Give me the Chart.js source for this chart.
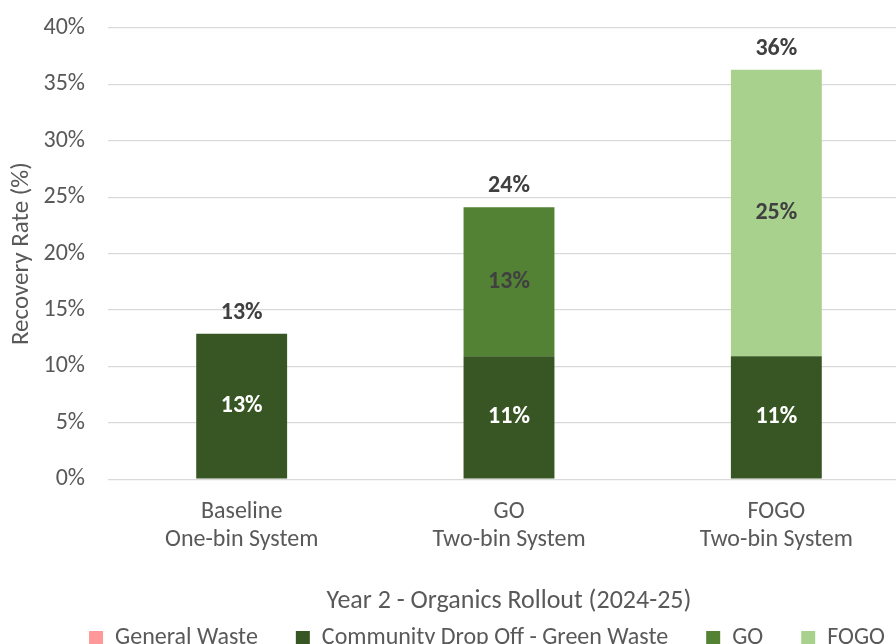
<!DOCTYPE html>
<html>
<head>
<meta charset="utf-8">
<script src="https://cdn.jsdelivr.net/npm/chart.js@4"></script>
<style>
  html, body { margin: 0; padding: 0; background: #fff; overflow: hidden; }
  #wrap { width: 896px; height: 644px; overflow: hidden; position: relative; }
  #wrap canvas { position: absolute; left: 0; top: 0; }
</style>
</head>
<body>
<div id="wrap"><canvas id="myChart" width="910" height="689"></canvas></div>
<script>
// Dataset
const categories = [["Baseline", "One-bin System"], ["GO", "Two-bin System"], ["FOGO", "Two-bin System"]];
const generalWaste = [0, 0, 0];
const communityDropOff = [12.9, 10.9, 10.9];
const goValues = [0, 13.2, 0];
const fogoValues = [0, 0, 25.4];
const yTicks = [0, 5, 10, 15, 20, 25, 30, 35, 40];

const FONT = "Carlito, Lato, 'Liberation Sans', sans-serif";
const GREY = "#595959";
const DARK = "#404040";

// draws the segment values and the stack totals
const barLabels = {
  id: "barLabels",
  afterDatasetsDraw(chart) {
    const ctx = chart.ctx;
    ctx.save();
    ctx.font = "bold 24px " + FONT;
    ctx.textAlign = "center";
    ctx.textBaseline = "middle";
    const totals = categories.map(() => 0);
    const tops = categories.map(() => Infinity);
    const xs = [];
    chart.data.datasets.forEach((ds, i) => {
      const meta = chart.getDatasetMeta(i);
      meta.data.forEach((bar, j) => {
        const v = ds.data[j];
        xs[j] = bar.x;
        if (!v) return;
        totals[j] += v;
        tops[j] = Math.min(tops[j], bar.y);
        ctx.fillStyle = ds.labelColor;
        ctx.fillText(Math.round(v) + "%", bar.x, (bar.y + bar.base) / 2);
      });
    });
    ctx.fillStyle = DARK;
    totals.forEach((t, j) => {
      ctx.fillText(Math.round(t) + "%", xs[j], tops[j] - 21);
    });
    ctx.restore();
  }
};

// nudge the legend so it sits where the original one does
const legendNudge = {
  id: "legendNudge",
  afterLayout(chart) {
    const lg = chart.legend;
    lg.left += 32; lg.right += 32;
    lg.top -= 29; lg.bottom -= 29;
  }
};

const data = {
  labels: categories,
  datasets: [
    { label: "General Waste", data: generalWaste, backgroundColor: "#FF9999", labelColor: DARK },
    { label: "Community Drop Off - Green Waste", data: communityDropOff, backgroundColor: "#375623", labelColor: "#ffffff" },
    { label: "GO", data: goValues, backgroundColor: "#548235", labelColor: DARK },
    { label: "FOGO", data: fogoValues, backgroundColor: "#A9D18E", labelColor: DARK },
  ],
};

const config = {
  type: "bar",
  data: data,
  plugins: [barLabels, legendNudge],
  options: {
    responsive: false,
    animation: false,
    devicePixelRatio: 1,
    layout: { padding: { top: 28, bottom: 0, left: 0, right: 0 } },
    datasets: { bar: { categoryPercentage: 1, barPercentage: 0.34 } },
    plugins: {
      tooltip: { enabled: false },
      legend: {
        position: "bottom",
        labels: {
          font: { family: FONT, size: 24 },
          color: GREY,
          boxWidth: 14,
          boxHeight: 14,
          padding: 38,
        },
      },
    },
    scales: {
      x: {
        stacked: true,
        grid: { display: false },
        border: { display: false },
        ticks: { color: GREY, font: { family: FONT, size: 24 }, padding: 10 },
        title: {
          display: true,
          text: "Year 2 - Organics Rollout (2024-25)",
          color: GREY,
          font: { family: FONT, size: 26 },
          padding: { top: 21, bottom: 0 },
        },
      },
      y: {
        stacked: true,
        min: 0,
        max: 40,
        afterBuildTicks: (scale) => { scale.ticks = yTicks.map(v => ({ value: v })); },
        afterFit: (scale) => {
          scale.width = 108;
          scale.paddingTop = 0;
          scale.paddingBottom = 0;
        },
        grid: { color: "#d9d9d9", lineWidth: 1.3, drawTicks: false },
        border: { display: false },
        ticks: {
          color: GREY,
          font: { family: FONT, size: 24 },
          padding: 23,
          callback: (v) => v + "%",
        },
        title: {
          display: true,
          text: "Recovery Rate (%)",
          color: GREY,
          font: { family: FONT, size: 25 },
          padding: { top: 7, bottom: 0 },
        },
      },
    },
  },
};

// Plotting
const ctx = document.getElementById("myChart").getContext("2d");
const stackedChart = new Chart(ctx, config);
</script>
</body>
</html>
